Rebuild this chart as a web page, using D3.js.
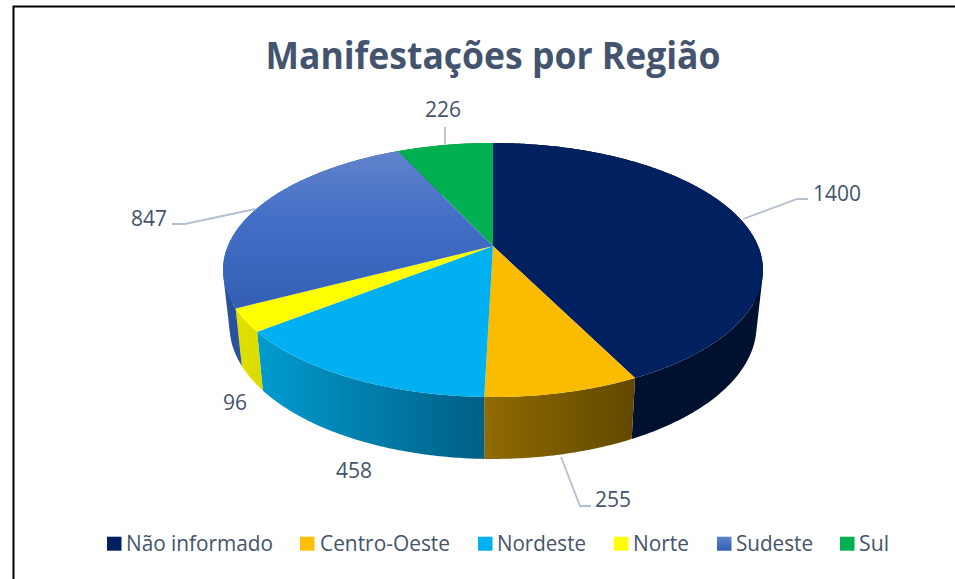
<!DOCTYPE html>
<html lang="pt">
<head>
<meta charset="utf-8">
<script src="https://cdn.jsdelivr.net/npm/d3@7"></script>
<style>
html,body{margin:0;padding:0;background:#fff;overflow:hidden}
svg{display:block}
text{font-family:"Open Sans","Noto Sans",sans-serif;fill:#44546A}
</style>
</head>
<body>
<svg id="chart" width="955" height="579"></svg>
<script>
// ---- data ----
const categories = ["Não informado","Centro-Oeste","Nordeste","Norte","Sudeste","Sul"];
const values = [1400,255,458,96,847,226];
const chartTitle = "Manifestações por Região";

// ---- styles ----
const topColors  = ["#002060","#FBBC00","#00B0F0","#FFFF00","url(#sudesteTop)","#00B050"];
const wallStart  = ["#00102F","#8F6B00","#009CCF","#E0E000","#2A529C","#006A30"];
const wallEnd    = ["#00102F","#614800","#005F85","#DCDC00","#2A529C","#006A30"];
const swatchFill = ["#002060","#FFC000","#00B0F0","#FFFF00","url(#sudesteSwatch)","#00B050"];

// ---- layout ----
const centre = {x:493, top:246, bottom:300.4};
const radii  = {topX:265.1, topY:122.5, bottomX:258.8, bottomY:128.6};
const tilt = 0.189;
const labelPos = [[837,193],[613,499],[354,470],[235,402],[149,218],[443,109]];
const leaders = [
  [[743,219],[797,199],[808,199]],
  [[561,457],[580,506],[591,506]],
  null, null,
  [[255,209],[185,224],[172,224]],
  [[445,127],[445,145]]
];
const legendSwatchX = [107,300,478,614,717,840];
const legendTextX   = [126,320,497,633,736,859];
const legendTextW   = [147,130,89,56,77,30];

const svg = d3.select("#chart");
const defs = svg.append("defs");

// projected rim of the disc (homography of a circle)
function rim(angle, level){
  const u = Math.sin(angle), v = -Math.cos(angle), w = 1 - tilt*v;
  return level === "top"
    ? [centre.x + radii.topX*u/w, centre.top + radii.topY*v/w]
    : [centre.x + radii.bottomX*u/w, centre.bottom + radii.bottomY*v/w];
}
const arcs = d3.pie().sort(null).value(d=>d)(values);
const stepsFor = a => d3.range(0, Math.ceil((a.endAngle-a.startAngle)/0.01)+1)
  .map(i => Math.min(a.endAngle, a.startAngle + i*0.01));

// gradients
const g1 = defs.append("linearGradient").attr("id","sudesteTop").attr("gradientUnits","userSpaceOnUse")
  .attr("x1",0).attr("x2",0).attr("y1",150).attr("y2",320);
g1.append("stop").attr("offset",0).attr("stop-color","#6283CB");
g1.append("stop").attr("offset",0.4).attr("stop-color","#4370C6");
g1.append("stop").attr("offset",1).attr("stop-color","#305DB2");
const g2 = defs.append("linearGradient").attr("id","sudesteSwatch").attr("x1",0).attr("x2",0).attr("y1",0).attr("y2",1);
g2.append("stop").attr("offset",0).attr("stop-color","#5F83CC");
g2.append("stop").attr("offset",1).attr("stop-color","#2F5EB5");

// side walls
const walls = svg.append("g");
arcs.forEach((a,i)=>{
  const ts = stepsFor(a);
  const xs = ts.map(t=>rim(t,"bottom")[0]);
  // gradient only runs across the visible (front) part of the wall
  const frontXs = ts.filter(t=>Math.cos(t)<0.1).map(t=>rim(t,"top")[0]);
  const ext = d3.extent(frontXs.length?frontXs:xs);
  const id = "wall"+i;
  const lg = defs.append("linearGradient").attr("id",id).attr("gradientUnits","userSpaceOnUse")
    .attr("x1",ext[0]).attr("x2",ext[1]).attr("y1",0).attr("y2",0);
  lg.append("stop").attr("offset",0).attr("stop-color",wallStart[i]);
  lg.append("stop").attr("offset",1).attr("stop-color",wallEnd[i]);
  const p = d3.path();
  for(let k=0;k<ts.length-1;k++){
    const q = [rim(ts[k],"top"),rim(ts[k+1],"top"),rim(ts[k+1],"bottom"),rim(ts[k],"bottom")];
    if(d3.polygonArea(q)<0) q.reverse();
    p.moveTo(q[0][0],q[0][1]);
    q.slice(1).forEach(c=>p.lineTo(c[0],c[1]));
    p.closePath();
  }
  walls.append("path").attr("d",p.toString()).attr("fill","url(#"+id+")").attr("fill-rule","nonzero");
});

// top faces
const line = d3.line();
svg.append("g").selectAll("path").data(arcs).join("path")
  .attr("d",a=>line([[centre.x,centre.top]].concat(stepsFor(a).map(t=>rim(t,"top"))))+"Z")
  .attr("fill",(a,i)=>topColors[i]);

// leader lines
svg.append("g").selectAll("path").data(leaders.filter(Boolean)).join("path")
  .attr("d",d=>line(d)).attr("fill","none").attr("stroke","#B4C0D0").attr("stroke-width",1.8);

// data labels
svg.append("g").selectAll("text").data(values).join("text")
  .attr("x",(d,i)=>labelPos[i][0]).attr("y",(d,i)=>labelPos[i][1])
  .attr("text-anchor","middle").attr("dominant-baseline","central")
  .attr("font-size",21).text(d=>d);

// title
svg.append("text").attr("x",493).attr("y",68.5).attr("text-anchor","middle")
  .attr("font-size",38).attr("font-weight",700)
  .attr("textLength",455).attr("lengthAdjust","spacingAndGlyphs")
  .style("fill","#44546F").text(chartTitle);

// legend
const legend = svg.append("g");
categories.forEach((c,i)=>{
  legend.append("rect").attr("x",legendSwatchX[i]).attr("y",536.7).attr("width",14.5).attr("height",14).attr("fill",swatchFill[i]);
  legend.append("text").attr("x",legendTextX[i]).attr("y",551).attr("font-size",21)
    .attr("textLength",legendTextW[i]).attr("lengthAdjust","spacingAndGlyphs").text(c);
});

// frame
svg.append("path").attr("d","M13.5,579V6.4H955").attr("fill","none").attr("stroke","#000").attr("stroke-width",2);
</script>
</body>
</html>
